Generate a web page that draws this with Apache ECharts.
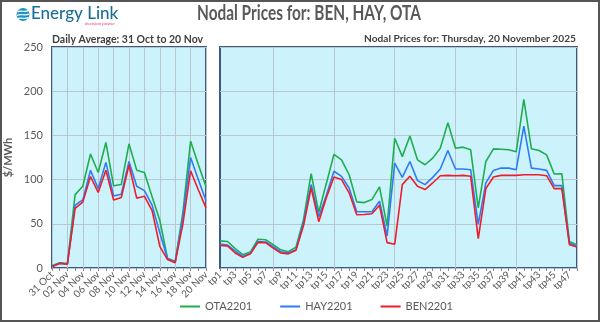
<!DOCTYPE html>
<html>
<head>
<meta charset="utf-8">
<script src="https://cdn.jsdelivr.net/npm/echarts@6.0.0/dist/echarts.min.js"></script>
<style>
html,body{margin:0;padding:0;background:#fff;}
#chart{width:600px;height:322px;}
</style>
</head>
<body>
<div id="chart"></div>
<script>
// ---- Data ----
const dayLabels = ['31 Oct','01 Nov','02 Nov','03 Nov','04 Nov','05 Nov','06 Nov','07 Nov','08 Nov','09 Nov','10 Nov','11 Nov','12 Nov','13 Nov','14 Nov','15 Nov','16 Nov','17 Nov','18 Nov','19 Nov','20 Nov'];
const dailyOTA = [2.5,5.8,5,83,92.5,129,108,142,93,94.5,140.5,110.7,108,80.7,54,11,7.5,63,143.5,117,92];
const dailyHAY = [2,5.5,4.6,71,77,110.5,90,119.5,81.5,83.5,120.5,92.5,87.5,71,40,10.5,7,58,125,100,76];
const dailyBEN = [1.5,5.2,4.3,67.5,74.5,103.5,85.5,110.5,76.8,79.8,116.5,79,81.2,65,24.5,9.5,6,50,110,88.5,68];

const tpLabels = [];
for (let i = 1; i <= 48; i++) tpLabels.push('tp' + i);
const tpOTA = [30.7,30,22,15,18,32.6,32,26.4,20.6,18.4,23.6,55,106.7,63,95.5,128.5,122.4,105.5,74.8,74,77.4,91.7,47.4,146.8,126,149.4,122.4,116.8,124.3,135.5,164.4,135.5,136.7,133.7,68,120.5,134.8,134.4,133.7,131.4,190.7,134.8,132.9,128,106.3,106.7,30,26];
const tpHAY = [27,26,19,13,16.5,30,29.4,24,18.4,17,20.6,52,94.4,58,82.4,109.4,103.7,90.5,63.6,63.6,63.6,75.5,36.2,118.7,102.5,120.5,98.8,94.3,102.5,112,132.9,112,112,111.2,49.3,96.2,110.4,113,113,111.2,160.6,113,112,110.4,93.2,93.2,28,25];
const tpBEN = [25.5,25,17,12,16,29,28.6,22.5,16.9,16,20,48,90.6,52.4,79.4,103,100,85,60.2,60.5,61.3,71,28.7,26.8,94.3,103.7,92.4,88.7,96.2,104.4,104.8,104.4,104.8,103.7,33.2,89.8,102.9,104.8,104.8,104.8,105.5,105.5,105.5,104.4,89.8,89.8,26.4,23.8];

const seriesNames = ['OTA2201','HAY2201','BEN2201'];
const seriesColors = ['#1FAE4F','#2E7BF6','#EE1D2A'];
const mainTitle = 'Nodal Prices for: BEN, HAY, OTA';
const leftSubtitle = 'Daily Average: 31 Oct to 20 Nov';
const rightSubtitle = 'Nodal Prices for: Thursday, 20 November 2025';

// ---- Chart ----
const FONT = 'Lato, "Open Sans", sans-serif';
const chart = echarts.init(document.getElementById('chart'), null, {renderer:'canvas'});

const gridStyle = {show:true, backgroundColor:'#CCF3FC', borderColor:'#3B5B85', borderWidth:2};
const splitStyle = {color:'#B9C6CF', width:1};

function mkSeries(name, color, data, idx) {
  return {name:name, type:'line', data:data, xAxisIndex:idx, yAxisIndex:idx,
    symbol:'none', showSymbol:false, lineStyle:{color:color, width:1.6}, itemStyle:{color:color}};
}

const option = {
  animation:false,
  textStyle:{fontFamily:FONT},
  title:[
    {text:leftSubtitle, left:52, top:34, padding:0,
     textStyle:{fontSize:10.5, fontWeight:'bold', color:'#404040', fontFamily:FONT}},
    {text:rightSubtitle, right:24, top:34, padding:0,
     textStyle:{fontSize:10.2, fontWeight:'bold', color:'#404040', fontFamily:FONT}}
  ],
  legend:{
    data:seriesNames, left:180, top:301, padding:0, icon:'rect', itemWidth:20, itemHeight:2, itemGap:28,
    textStyle:{fontSize:11, color:'#595959', fontFamily:FONT}
  },
  grid:[
    Object.assign({left:52, top:47, width:154, height:221}, gridStyle),
    Object.assign({left:220, top:47, width:357, height:221}, gridStyle)
  ],
  xAxis:[
    {type:'category', gridIndex:0, data:dayLabels, boundaryGap:false,
     axisLine:{show:false},
     axisTick:{show:true, interval:0, length:3, lineStyle:{color:'#8C8C8C'}},
     axisLabel:{interval:1, rotate:45, fontSize:10, color:'#595959', margin:5, fontFamily:FONT},
     splitLine:{show:true, interval:1, lineStyle:splitStyle}},
    {type:'category', gridIndex:1, data:tpLabels, boundaryGap:false,
     axisLine:{show:false},
     axisTick:{show:true, interval:0, length:3, lineStyle:{color:'#8C8C8C'}},
     axisLabel:{interval:1, rotate:45, fontSize:10, color:'#595959', margin:5, fontFamily:FONT},
     splitLine:{show:true, interval:function(i){return i % 8 === 7;}, lineStyle:splitStyle}}
  ],
  yAxis:[
    {type:'value', gridIndex:0, min:0, max:250, interval:50,
     name:'$/MWh', nameLocation:'middle', nameRotate:90, nameGap:38,
     nameTextStyle:{fontSize:11, fontWeight:'bold', color:'#595959', fontFamily:FONT},
     axisLine:{show:false}, axisTick:{show:false},
     axisLabel:{fontSize:11, color:'#595959', margin:9, fontFamily:FONT},
     splitLine:{show:true, lineStyle:splitStyle}},
    {type:'value', gridIndex:1, min:0, max:250, interval:50,
     axisLine:{show:false}, axisTick:{show:false}, axisLabel:{show:false},
     splitLine:{show:true, lineStyle:splitStyle}}
  ],
  series:[
    mkSeries(seriesNames[0], seriesColors[0], dailyOTA, 0),
    mkSeries(seriesNames[1], seriesColors[1], dailyHAY, 0),
    mkSeries(seriesNames[2], seriesColors[2], dailyBEN, 0),
    mkSeries(seriesNames[0], seriesColors[0], tpOTA, 1),
    mkSeries(seriesNames[1], seriesColors[1], tpHAY, 1),
    mkSeries(seriesNames[2], seriesColors[2], tpBEN, 1)
  ],
  graphic:[
    {type:'rect', shape:{x:1, y:1, width:598, height:320}, style:{fill:null, stroke:'#555555', lineWidth:2}, silent:true, z:100},
    {type:'text', x:197, y:4, scaleX:0.77, scaleY:1, style:{text:mainTitle, fontSize:20, fontWeight:'bold', fill:'#595959', fontFamily:FONT}},
    {type:'circle', shape:{cx:23, cy:14.5, r:6.5}, style:{fill:'#1E95BE'}},
    {type:'bezierCurve', shape:{x1:17.5, y1:12, cpx1:20, cpy1:9.5, cpx2:25, cpy2:13, x2:28.5, y2:10.5}, style:{stroke:'#fff', lineWidth:1.2, fill:null}},
    {type:'bezierCurve', shape:{x1:17, y1:15.5, cpx1:20, cpy1:13, cpx2:25, cpy2:16.5, x2:29, y2:14}, style:{stroke:'#fff', lineWidth:1.2, fill:null}},
    {type:'bezierCurve', shape:{x1:17.5, y1:19, cpx1:20, cpy1:16.5, cpx2:25, cpy2:20, x2:28.5, y2:17.5}, style:{stroke:'#fff', lineWidth:1.2, fill:null}},
    {type:'text', left:31, top:5, style:{text:'Energy Link', fontSize:17, fontWeight:500, fill:'#1C6F94', fontFamily:FONT}},
    {type:'text', left:85, top:21.5, style:{text:'decision power', fontSize:4.5, fill:'#E8407A', fontFamily:FONT}}
  ]
};
chart.setOption(option);
</script>
</body>
</html>
